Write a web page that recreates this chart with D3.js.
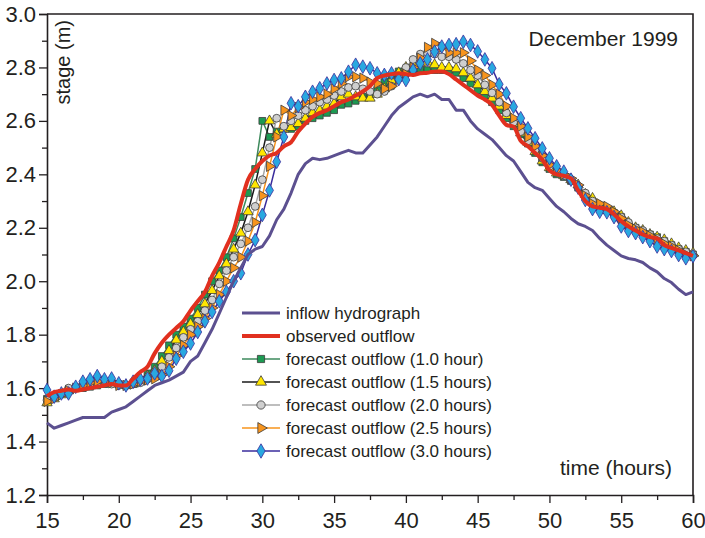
<!DOCTYPE html>
<html>
<head>
<meta charset="utf-8">
<script src="https://cdn.jsdelivr.net/npm/d3@7"></script>
<style>
  body { margin: 0; background: #fff; }
  svg text { font-family: "Liberation Sans", Arial, sans-serif; fill: #231f20; }
</style>
</head>
<body>
<div id="chart"></div>
<script>
// half-hour time steps, 15 h to 60 h
const hours = d3.range(91).map(i => 15 + i * 0.5);

const inflow = [1.47,1.45,1.46,1.47,1.48,1.49,1.49,1.49,1.49,1.51,1.52,1.53,1.55,1.57,1.59,1.61,1.62,1.63,1.645,1.66,
  1.70,1.72,1.77,1.82,1.88,1.94,2.00,2.05,2.10,2.12,2.13,2.17,2.23,2.27,2.33,2.40,2.44,2.46,2.455,2.46,
  2.47,2.48,2.49,2.48,2.48,2.51,2.54,2.58,2.62,2.65,2.67,2.69,2.70,2.69,2.70,2.68,2.68,2.64,2.64,2.60,
  2.57,2.55,2.53,2.50,2.47,2.45,2.41,2.37,2.35,2.34,2.31,2.28,2.26,2.235,2.215,2.205,2.19,2.16,2.135,2.115,
  2.095,2.085,2.08,2.07,2.05,2.035,2.01,1.995,1.97,1.95,1.96];

const observed = [1.57,1.585,1.59,1.595,1.59,1.595,1.60,1.605,1.61,1.615,1.61,1.61,1.635,1.66,1.68,1.73,1.77,1.80,1.825,1.85,
  1.89,1.925,1.96,2.02,2.07,2.13,2.19,2.29,2.38,2.42,2.45,2.47,2.48,2.505,2.52,2.56,2.59,2.615,2.63,2.64,
  2.655,2.67,2.68,2.695,2.71,2.73,2.76,2.77,2.775,2.778,2.775,2.772,2.778,2.78,2.785,2.785,2.775,2.755,2.735,2.715,
  2.695,2.68,2.66,2.62,2.585,2.578,2.525,2.505,2.48,2.455,2.415,2.40,2.395,2.385,2.34,2.30,2.28,2.275,2.27,2.25,
  2.225,2.205,2.19,2.175,2.165,2.16,2.135,2.125,2.115,2.105,2.095];

const forecast10 = [1.56,1.57,1.58,1.59,1.60,1.60,1.605,1.61,1.615,1.62,1.615,1.61,1.615,1.63,1.655,1.68,1.72,1.76,1.80,1.83,
  1.86,1.90,1.95,2.00,2.04,2.09,2.16,2.24,2.33,2.42,2.60,2.54,2.56,2.57,2.57,2.58,2.60,2.61,2.62,2.63,
  2.64,2.66,2.665,2.675,2.69,2.70,2.715,2.745,2.77,2.785,2.79,2.79,2.795,2.79,2.79,2.79,2.79,2.78,2.76,2.74,
  2.715,2.695,2.67,2.64,2.61,2.58,2.55,2.515,2.48,2.445,2.42,2.40,2.39,2.375,2.35,2.32,2.29,2.27,2.265,2.255,
  2.24,2.215,2.20,2.185,2.175,2.165,2.15,2.135,2.12,2.11,2.10];

const forecast15 = [1.545,1.56,1.575,1.59,1.60,1.605,1.61,1.615,1.62,1.62,1.615,1.61,1.615,1.625,1.645,1.665,1.70,1.74,1.78,1.81,
  1.84,1.875,1.915,1.965,2.02,2.065,2.12,2.18,2.26,2.36,2.48,2.60,2.55,2.57,2.575,2.59,2.61,2.63,2.64,2.655,
  2.665,2.69,2.70,2.69,2.685,2.685,2.70,2.72,2.75,2.78,2.80,2.81,2.815,2.82,2.81,2.80,2.80,2.795,2.78,2.76,
  2.735,2.71,2.685,2.655,2.62,2.59,2.555,2.52,2.485,2.45,2.425,2.405,2.395,2.38,2.36,2.325,2.31,2.28,2.265,2.26,
  2.245,2.22,2.20,2.19,2.175,2.165,2.155,2.14,2.125,2.115,2.105];

const forecast20 = [1.555,1.565,1.58,1.60,1.605,1.61,1.615,1.62,1.62,1.615,1.61,1.61,1.615,1.62,1.635,1.655,1.68,1.715,1.75,1.79,
  1.82,1.85,1.89,1.93,1.99,2.04,2.09,2.14,2.20,2.28,2.38,2.50,2.61,2.58,2.60,2.62,2.64,2.655,2.67,2.68,
  2.695,2.71,2.725,2.73,2.72,2.71,2.70,2.71,2.73,2.76,2.80,2.83,2.85,2.855,2.85,2.84,2.84,2.83,2.815,2.79,
  2.77,2.735,2.705,2.67,2.63,2.595,2.56,2.525,2.49,2.46,2.43,2.41,2.395,2.38,2.355,2.33,2.30,2.285,2.27,2.255,
  2.24,2.22,2.20,2.19,2.175,2.16,2.15,2.135,2.12,2.11,2.10];

const forecast25 = [1.55,1.56,1.575,1.59,1.60,1.61,1.62,1.625,1.625,1.62,1.61,1.61,1.615,1.625,1.63,1.635,1.65,1.68,1.72,1.76,
  1.80,1.83,1.86,1.90,1.95,2.00,2.05,2.09,2.15,2.22,2.32,2.43,2.54,2.64,2.62,2.65,2.67,2.68,2.69,2.70,
  2.72,2.74,2.765,2.765,2.76,2.745,2.74,2.72,2.73,2.755,2.775,2.80,2.835,2.875,2.89,2.875,2.855,2.855,2.855,2.825,
  2.79,2.77,2.735,2.70,2.655,2.61,2.58,2.54,2.505,2.47,2.435,2.415,2.40,2.385,2.36,2.32,2.29,2.29,2.28,2.26,
  2.235,2.21,2.195,2.185,2.17,2.155,2.14,2.13,2.115,2.10,2.095];

const forecast30 = [1.593,1.568,1.58,1.58,1.605,1.624,1.633,1.645,1.633,1.636,1.618,1.61,1.624,1.633,1.636,1.655,1.645,1.665,1.71,1.736,
  1.767,1.81,1.85,1.885,1.925,1.96,2.00,2.03,2.10,2.154,2.248,2.34,2.447,2.54,2.666,2.655,2.69,2.709,2.722,2.74,
  2.753,2.759,2.784,2.81,2.803,2.797,2.778,2.772,2.778,2.756,2.753,2.79,2.815,2.83,2.859,2.878,2.884,2.887,2.896,2.884,
  2.86,2.83,2.797,2.737,2.703,2.653,2.61,2.572,2.535,2.497,2.46,2.43,2.41,2.38,2.35,2.304,2.27,2.26,2.258,2.24,
  2.205,2.188,2.18,2.165,2.15,2.13,2.12,2.113,2.098,2.086,2.094];

const xTicks = [15, 20, 25, 30, 35, 40, 45, 50, 55, 60];
const yTicks = [1.2, 1.4, 1.6, 1.8, 2.0, 2.2, 2.4, 2.6, 2.8, 3.0];

const series = [
  { name: "forecast outflow (1.0 hour)",  values: forecast10, line: "#3d8a5c", fill: "#1c9a52", shape: d3.symbolSquare,   size: 46 },
  { name: "forecast outflow (1.5 hours)", values: forecast15, line: "#1a1a1a", fill: "#ffe600", shape: d3.symbolTriangle, size: 46 },
  { name: "forecast outflow (2.0 hours)", values: forecast20, line: "#a8a8a8", fill: "#cfcfcf", shape: d3.symbolCircle,   size: 48 },
  { name: "forecast outflow (2.5 hours)", values: forecast25, line: "#f7941d", fill: "#f7941d", shape: d3.symbolTriangle, size: 46, rotate: 90 },
  { name: "forecast outflow (3.0 hours)", values: forecast30, line: "#3a2c9c", fill: "#29a8e0", shape: d3.symbolDiamond,  size: 54 }
];

const W = 705, H = 538;
const margin = { top: 14, right: 12, bottom: 43, left: 47 };
const width = W - margin.left - margin.right,
  height = H - margin.top - margin.bottom;

const svg = d3.select("#chart").append("svg")
  .attr("width", W)
  .attr("height", H);

const g = svg.append("g")
  .attr("transform", `translate(${margin.left}, ${margin.top})`);

const x = d3.scaleLinear().domain([15, 60]).range([0, width]);
const y = d3.scaleLinear().domain([1.2, 3.0]).range([height, 0]);

// minor ticks
g.append("g")
  .attr("transform", `translate(0, ${height})`)
  .call(d3.axisBottom(x).tickValues(d3.range(17.5, 60, 5)).tickSize(5).tickFormat(""))
  .call(a => a.select(".domain").remove());
g.append("g")
  .call(d3.axisLeft(y).tickValues(d3.range(1.3, 3.0, 0.2)).tickSize(5).tickFormat(""))
  .call(a => a.select(".domain").remove());

// major axes
const xAxis = g.append("g")
  .attr("transform", `translate(0, ${height})`)
  .call(d3.axisBottom(x).tickValues(xTicks).tickSize(8).tickPadding(9).tickFormat(d3.format("d")));
const yAxis = g.append("g")
  .call(d3.axisLeft(y).tickValues(yTicks).tickSize(8).tickPadding(3).tickFormat(d3.format(".1f")));

[xAxis, yAxis].forEach(a => {
  a.selectAll("text").style("font-size", "22px");
  a.select(".domain").attr("stroke", "#231f20").attr("stroke-width", 1.6);
});
g.selectAll(".tick line").attr("stroke", "#231f20").attr("stroke-width", 1.3);

// frame top / right
g.append("path")
  .attr("d", `M0,0H${width}V${height}`)
  .attr("fill", "none")
  .attr("stroke", "#231f20")
  .attr("stroke-width", 1.6);

const line = d3.line().x((d, i) => x(hours[i])).y(d => y(d));

// forecasts: line + markers
series.forEach(s => {
  g.append("path")
    .datum(s.values)
    .attr("d", line)
    .attr("fill", "none")
    .attr("stroke", s.line)
    .attr("stroke-width", 1.5);
});
series.forEach(s => {
  g.selectAll(null)
    .data(s.values)
    .enter()
    .append("path")
    .attr("d", d3.symbol().type(s.shape).size(s.size))
    .attr("transform", (d, i) => `translate(${x(hours[i])}, ${y(d)})` + (s.rotate ? ` rotate(${s.rotate})` : ""))
    .attr("fill", s.fill)
    .attr("stroke", s.shape === d3.symbolDiamond ? "#3a2c9c" : "#3b3b3b")
    .attr("stroke-width", 0.8);
});

// inflow and observed
g.append("path")
  .datum(inflow)
  .attr("d", line)
  .attr("fill", "none")
  .attr("stroke", "#5c5090")
  .attr("stroke-width", 3)
  .attr("stroke-linejoin", "round");

g.append("path")
  .datum(observed)
  .attr("d", line.curve(d3.curveMonotoneX))
  .attr("fill", "none")
  .attr("stroke", "#e1301f")
  .attr("stroke-width", 4)
  .attr("stroke-linejoin", "round");

// texts
g.append("text")
  .attr("transform", "translate(23, 6) rotate(-90)")
  .attr("text-anchor", "end")
  .style("font-size", "20px")
  .text("stage (m)");

g.append("text")
  .attr("x", 631).attr("y", 32)
  .attr("text-anchor", "end")
  .style("font-size", "21px")
  .text("December 1999");

g.append("text")
  .attr("x", 625).attr("y", 461)
  .attr("text-anchor", "end")
  .style("font-size", "21px")
  .text("time (hours)");

// legend
const legendItems = [
  { name: "inflow hydrograph", line: "#5c5090", width: 3 },
  { name: "observed outflow", line: "#e1301f", width: 4 }
].concat(series.map(s => ({ ...s, width: 1.6 })));

const legend = g.append("g").attr("transform", "translate(195, 299)");
legendItems.forEach((d, i) => {
  const row = legend.append("g").attr("transform", `translate(0, ${i * 23})`);
  row.append("line")
    .attr("x1", 0).attr("x2", 38)
    .attr("stroke", d.line)
    .attr("stroke-width", d.width);
  if (d.shape) {
    row.append("path")
      .attr("d", d3.symbol().type(d.shape).size(d.size + 6))
      .attr("transform", `translate(19, 0)` + (d.rotate ? ` rotate(${d.rotate})` : ""))
      .attr("fill", d.fill)
      .attr("stroke", d.shape === d3.symbolDiamond ? "#3a2c9c" : "#3b3b3b")
      .attr("stroke-width", 0.8);
  }
  row.append("text")
    .attr("x", 44).attr("y", 6)
    .style("font-size", "17px")
    .text(d.name);
});
</script>
</body>
</html>
